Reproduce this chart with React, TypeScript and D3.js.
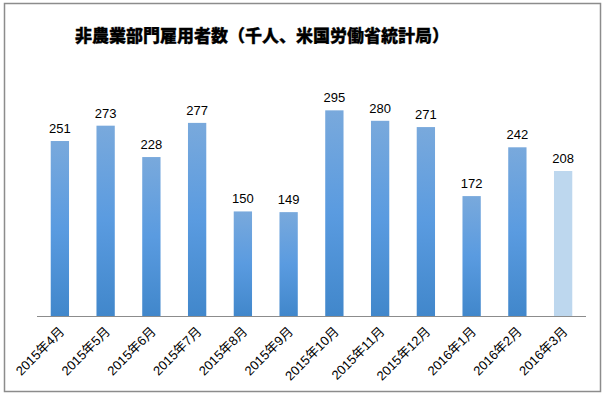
import React, { useEffect, useRef } from 'react';
import * as d3 from 'd3';

const months = [
  '2015年4月', '2015年5月', '2015年6月', '2015年7月', '2015年8月', '2015年9月',
  '2015年10月', '2015年11月', '2015年12月', '2016年1月', '2016年2月', '2016年3月',
];
const payrolls = [251, 273, 228, 277, 150, 149, 295, 280, 271, 172, 242, 208];
const preliminary = [false, false, false, false, false, false, false, false, false, false, false, true];

const W = 606;
const H = 395;

const App: React.FC = () => {
  const svgRef = useRef<SVGSVGElement>(null);

  useEffect(() => {
    if (!svgRef.current) return;
    const svg = d3.select(svgRef.current);
    svg.selectAll('*').remove();

    const defs = svg.append('defs');
    const grad = defs
      .append('linearGradient')
      .attr('id', 'barGrad')
      .attr('x1', 0).attr('y1', 0).attr('x2', 0).attr('y2', 1);
    grad.append('stop').attr('offset', '0%').attr('stop-color', '#79a9dc');
    grad.append('stop').attr('offset', '50%').attr('stop-color', '#5a9be0');
    grad.append('stop').attr('offset', '100%').attr('stop-color', '#4187cb');

    svg
      .append('rect')
      .attr('x', 4.5).attr('y', 3.5)
      .attr('width', 596).attr('height', 388)
      .attr('fill', '#fff')
      .attr('stroke', '#8c8c8c')
      .attr('stroke-width', 1.5);

    svg
      .append('text')
      .attr('x', 75)
      .attr('y', 42)
      .attr('font-family', '"Noto Sans CJK JP", sans-serif')
      .attr('font-size', '17px')
      .attr('font-weight', 900)
      .attr('fill', '#000')
      .attr('stroke', '#000')
      .attr('stroke-width', 0.3)
      .text('非農業部門雇用者数（千人、米国労働省統計局）');

    const x = d3.scaleBand<string>().domain(months).range([37, 586]).paddingInner(0.6).paddingOuter(0.3);
    const y = d3.scaleLinear().domain([0, 350]).range([316, 72]);

    const g = svg.append('g');
    g.selectAll('rect.bar')
      .data(payrolls)
      .join('rect')
      .attr('class', 'bar')
      .attr('x', (_, i) => x(months[i])!)
      .attr('y', (d) => y(d))
      .attr('width', x.bandwidth())
      .attr('height', (d) => y(0) - y(d))
      .attr('fill', (_, i) => (preliminary[i] ? '#bdd7ee' : 'url(#barGrad)'));

    g.selectAll('text.val')
      .data(payrolls)
      .join('text')
      .attr('class', 'val')
      .attr('x', (_, i) => x(months[i])! + x.bandwidth() / 2)
      .attr('y', (d) => y(d) - 8)
      .attr('text-anchor', 'middle')
      .attr('font-family', '"Liberation Sans", Arial, sans-serif')
      .attr('font-size', '13px')
      .attr('fill', '#000')
      .text((d) => d);

    svg
      .append('line')
      .attr('x1', 37).attr('x2', 586)
      .attr('y1', 316.5).attr('y2', 316.5)
      .attr('stroke', '#8c8c8c')
      .attr('stroke-width', 1);

    svg
      .append('g')
      .selectAll('text')
      .data(months)
      .join('text')
      .attr('transform', (d) => `translate(${x(d)! + x.bandwidth() / 2 + 2},${329}) rotate(-45)`)
      .attr('text-anchor', 'end')
      .attr('dy', '0.35em')
      .attr('font-family', '"Liberation Sans", Arial, "Noto Sans CJK JP", sans-serif')
      .attr('font-size', '13px')
      .attr('fill', '#000')
      .text((d) => d);
  }, []);

  return (
    <svg
      ref={svgRef}
      width={W}
      height={H}
      style={{ position: 'absolute', left: 0, top: 0, background: '#fff' }}
    />
  );
};

export default App;
